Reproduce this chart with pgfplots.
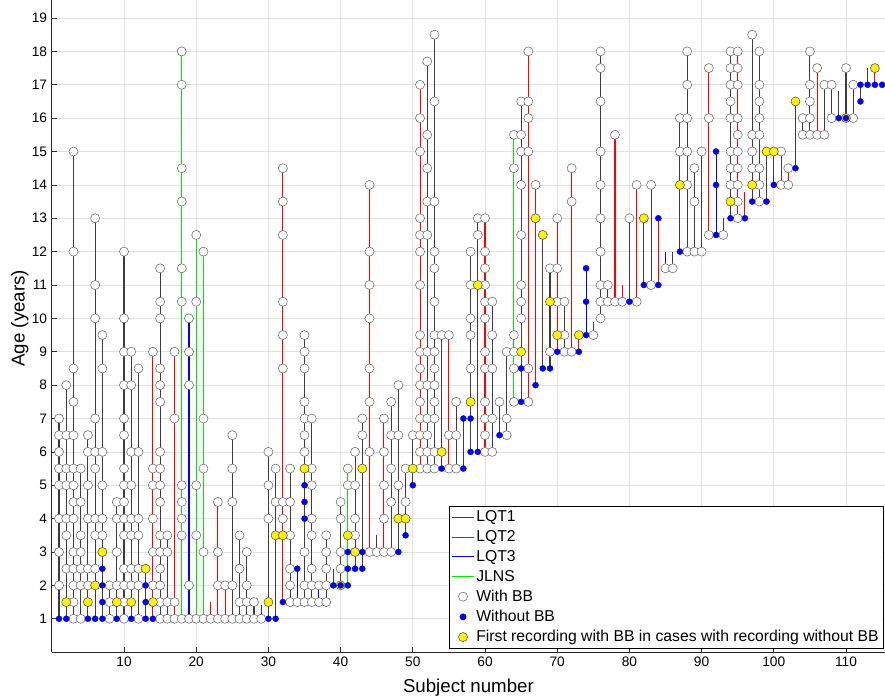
\documentclass[border=0pt]{standalone}
\usepackage{fontspec}
\setmainfont{Liberation Sans}
\usepackage{pgfplots}
\pgfplotsset{compat=1.18}
\definecolor{gridc}{RGB}{225,225,225}
\definecolor{lgreen}{RGB}{0,230,0}
\definecolor{lred}{RGB}{255,0,0}
\definecolor{lblue}{RGB}{0,0,255}
\definecolor{lblack}{RGB}{60,60,60}
\begin{document}
\begin{tikzpicture}
\begin{axis}[
  scale only axis, width=624.75pt, height=489pt,
  xmin=0, xmax=115.4, ymin=0, ymax=19.54,
  axis x line*=bottom, axis y line*=left,
  axis line style={-, black!85, line width=0.5pt},
  xtick={10,20,...,110}, ytick={1,...,19},
  tick align=inside, major tick length=4pt,
  tick style={black!85, line width=0.5pt},
  grid=major, grid style={gridc, line width=0.5pt},
  ticklabel style={font=\fontsize{10.3}{12}\selectfont},
  /pgf/number format/assume math mode=true,
  xlabel={Subject number}, ylabel={Age (years)},
  label style={font=\fontsize{14}{16}\selectfont},
  xlabel style={at={(axis description cs:0.5,-0.0552)}, anchor=center},
  ylabel style={at={(axis description cs:-0.0384,0.512)}, anchor=center},
  legend cell align=left,
  legend image code/.code={\draw[#1] (0pt,0pt)--(16pt,0pt);},
  legend style={at={(axis description cs:0.9985,0.006)}, anchor=south east,
    draw=black, line width=0.5pt, fill=white,
    font=\fontsize{11.8}{13}\selectfont, inner xsep=2pt, inner ysep=1.5pt,
    row sep=1.9pt, nodes={inner sep=1.6pt}},
  unbounded coords=jump,
]
\coordinate (sw) at (rel axis cs:0,0);
\coordinate (ne) at (rel axis cs:1,1);
% legend entries
\addlegendimage{lblack, line width=0.7pt}
\addlegendentry{LQT1}
\addlegendimage{lred, line width=0.7pt}
\addlegendentry{LQT2}
\addlegendimage{lblue, line width=0.7pt}
\addlegendentry{LQT3}
\addlegendimage{lgreen, line width=0.7pt}
\addlegendentry{JLNS}
\addlegendimage{legend image code/.code={\draw[black!60, fill=white, line width=0.4pt] (8pt,0pt) circle (3.4pt);}}
\addlegendentry{With BB}
\addlegendimage{legend image code/.code={\fill[lblue] (8pt,0pt) circle (2.3pt);}}
\addlegendentry{Without BB}
\addlegendimage{legend image code/.code={\draw[black!70, fill=yellow, line width=0.4pt] (8pt,0pt) circle (3.4pt);}}
\addlegendentry{First recording with BB in cases with recording without BB}

% LQT1 lines
\addplot[forget plot, lblack, line width=0.8pt, no marks] coordinates {
(1,1)(1,7)(1,nan) (2,1)(2,8)(2,nan) (3,1)(3,15)(3,nan) (4,1)(4,5.5)(4,nan)
(5,1)(5,6.5)(5,nan) (6,1)(6,13)(6,nan) (7,1)(7,9.5)(7,nan) (8,1)(8,2)(8,nan)
(9,1)(9,4.5)(9,nan) (10,1)(10,12)(10,nan) (11,1)(11,9)(11,nan) (12,1)(12,8.5)(12,nan)
(13,1)(13,2.5)(13,nan) (15,1)(15,11.5)(15,nan) (16,1)(16,3.5)(16,nan)
(25,1)(25,6.5)(25,nan) (26,1)(26,3.5)(26,nan) (27,1)(27,3)(27,nan) (28,1)(28,1.5)(28,nan)
(29,1)(29,1.4)(29,nan) (30,1)(30,6)(30,nan) (31,1)(31,5.5)(31,nan) (33,1.5)(33,5.5)(33,nan)
(35,1.5)(35,9.5)(35,nan) (36,1.5)(36,7)(36,nan) (38,1.5)(38,3.5)(38,nan) (39,2)(39,2.5)(39,nan)
(40,2)(40,4.5)(40,nan) (42,2.5)(42,6)(42,nan) (43,2.5)(43,7)(43,nan) (45,3)(45,3.5)(45,nan)
(47,3)(47,7.5)(47,nan) (48,3)(48,8)(48,nan) (49,3.5)(49,5.5)(49,nan) (50,5)(50,6.5)(50,nan)
(52,5.5)(52,17.7)(52,nan) (53,5.5)(53,18.5)(53,nan) (54,5.5)(54,9.5)(54,nan) (56,5.5)(56,7.5)(56,nan)
(57,5.5)(57,7)(57,nan) (58,6)(58,12)(58,nan) (59,6)(59,13)(59,nan) (61,6)(61,10.5)(61,nan)
(62,6.5)(62,7.5)(62,nan) (63,6.5)(63,9)(63,nan) (65,7.5)(65,16.5)(65,nan) (68,8.5)(68,12.5)(68,nan)
(69,8.5)(69,11.5)(69,nan) (71,9)(71,10.5)(71,nan) (75,9.5)(75,9.9)(75,nan) (76,10)(76,18)(76,nan)
(77,10.5)(77,11)(77,nan) (80,10.5)(80,13)(80,nan) (82,11)(82,13)(82,nan) (83,11)(83,14)(83,nan)
(86,11.5)(86,12)(86,nan) (87,12)(87,16)(87,nan) (88,12)(88,18)(88,nan) (89,12)(89,14.5)(89,nan)
(90,12)(90,15)(90,nan) (93,12.5)(93,13)(93,nan) (94,13)(94,18)(94,nan) (97,13.5)(97,18.5)(97,nan)
(98,13.5)(98,18)(98,nan) (99,13.5)(99,15)(99,nan) (100,14)(100,15)(100,nan) (101,14)(101,15)(101,nan)
(103,14.5)(103,16.5)(103,nan) (104,15.5)(104,16)(104,nan) (105,15.5)(105,18)(105,nan)
(107,15.5)(107,17)(107,nan) (108,16)(108,17)(108,nan) (109,16)(109,16.8)(109,nan)
(110,16)(110,17.5)(110,nan) (111,16)(111,17)(111,nan) (112,16.5)(112,17)(112,nan)
(113,17)(113,17.5)(113,nan)
};
% LQT2 lines
\addplot[forget plot, lred, line width=0.8pt, no marks] coordinates {
(14,1)(14,9)(14,nan) (17,1)(17,9)(17,nan) (22,1)(22,1.5)(22,nan) (23,1)(23,4.5)(23,nan)
(24,1)(24,2)(24,nan) (32,1.5)(32,14.5)(32,nan) (44,3)(44,14)(44,nan) (46,3)(46,7)(46,nan)
(51,5.5)(51,17)(51,nan) (55,5.5)(55,9.5)(55,nan) (60,6)(60,13)(60,nan) (66,7.5)(66,18)(66,nan)
(67,8)(67,14)(67,nan) (70,9)(70,13)(70,nan) (72,9)(72,14.5)(72,nan) (73,9)(73,9.5)(73,nan)
(78,10.5)(78,15.5)(78,nan) (79,10.5)(79,11)(79,nan) (81,10.5)(81,14)(81,nan) (84,11)(84,13)(84,nan)
(91,12.5)(91,17.5)(91,nan) (95,13)(95,18)(95,nan) (96,13)(96,13.8)(96,nan) (102,14)(102,14.5)(102,nan)
(106,15.5)(106,17.5)(106,nan) (114,17)(114,17.5)(114,nan)
};
% LQT3 lines
\addplot[forget plot, lblue, line width=0.8pt, no marks] coordinates {
(19,1)(19,10)(19,nan) (34,1.5)(34,2.5)(34,nan) (37,1.5)(37,2)(37,nan)
(74,9.5)(74,11.5)(74,nan) (85,11.5)(85,12)(85,nan) (92,12.5)(92,15)(92,nan)
};
% JLNS lines
\addplot[forget plot, lgreen, line width=0.8pt, no marks] coordinates {
(18,1)(18,18)(18,nan) (20,1)(20,12.5)(20,nan) (21,1)(21,12)(21,nan)
(41,2)(41,5.5)(41,nan) (64,7.5)(64,15.5)(64,nan)
};
% With BB
\addplot[forget plot, only marks, mark=*, mark size=3.4pt, mark options={draw=black!60, fill=white, line width=0.4pt}] coordinates {
(1,2)(1,3)(1,4)(1,5)(1,5.5)(1,6)(1,6.5)(1,7)
(2,2.5)(2,3.5)(2,4)(2,5)(2,5.5)(2,6.5)(2,8)
(3,1)(3,1.5)(3,2)(3,2.5)(3,3)(3,4)(3,4.5)(3,5)(3,5.5)(3,6.5)(3,7.5)(3,8.5)(3,12)(3,15)
(4,1)(4,2)(4,2.5)(4,3)(4,3.5)(4,4.5)(4,5.5)
(5,2)(5,2.5)(5,4)(5,5)(5,6)(5,6.5)
(6,2.5)(6,3.5)(6,4)(6,5.5)(6,6)(6,7)(6,10)(6,11)(6,13)
(7,3.5)(7,4)(7,5)(7,6)(7,8.5)(7,9.5)
(8,1)(8,1.5)(8,2)
(9,2)(9,3)(9,4)(9,4.5)
(10,1)(10,1.5)(10,2)(10,2.5)(10,3.5)(10,4)(10,4.5)(10,5)(10,5.5)(10,6.5)(10,7)(10,8)(10,9)(10,10)(10,12)
(11,2)(11,2.5)(11,3.5)(11,4)(11,5)(11,6)(11,8)(11,9)
(12,1)(12,2)(12,2.5)(12,3.5)(12,4)(12,6)(12,8.5)
(14,2)(14,3)(14,4)(14,5)(14,5.5)(14,9)
(15,1)(15,1.5)(15,2)(15,2.5)(15,3)(15,3.5)(15,4.5)(15,5)(15,5.5)(15,6)(15,7.5)(15,8)(15,8.5)(15,10)(15,10.5)(15,11.5)
(16,1)(16,1.5)(16,3)(16,3.5)
(17,1)(17,1.5)(17,7)(17,9)
(18,1)(18,3.5)(18,4)(18,4.5)(18,5)(18,10.5)(18,11.5)(18,13.5)(18,14.5)(18,17)(18,18)
(19,1)(19,2)(19,8)(19,9)(19,10)
(20,1)(20,3.5)(20,5)(20,10.5)(20,12.5)
(21,1)(21,3)(21,5.5)(21,7)(21,12)
(22,1)
(23,1)(23,2)(23,3)(23,4.5)
(24,1)(24,2)
(25,1)(25,2)(25,4.5)(25,5.5)(25,6.5)
(26,1)(26,1.5)(26,2.5)(26,3.5)
(27,1)(27,1.5)(27,2)(27,3)
(28,1)(28,1.5)
(29,1)
(30,4)(30,5)(30,6)
(31,4.5)(31,5.5)
(32,4)(32,4.5)(32,8.5)(32,9.5)(32,10.5)(32,12.5)(32,13.5)(32,14.5)
(33,1.5)(33,2)(33,2.5)(33,3.5)(33,4.5)(33,5.5)
(34,1.5)
(35,1.5)(35,2)(35,3)(35,6)(35,6.5)(35,7)(35,7.5)(35,8.5)(35,9)(35,9.5)
(36,1.5)(36,2)(36,2.5)(36,3.5)(36,4)(36,5)(36,5.5)(36,7)
(37,1.5)(37,2)
(38,1.5)(38,2)(38,2.5)(38,3)(38,3.5)
(40,2.5)(40,3)(40,4)(40,4.5)
(41,5)(41,5.5)
(42,3.5)(42,4)(42,5)(42,6)
(43,6.5)(43,7)
(44,3)(44,6)(44,7.5)(44,8.5)(44,10)(44,11)(44,12)(44,14)
(45,3)
(46,3)(46,4)(46,5)(46,6)(46,7)
(47,3)(47,4.5)(47,5.5)(47,6.5)(47,7.5)
(48,5)(48,6.5)(48,8)
(49,4.5)(49,5.5)
(50,6.5)
(51,5.5)(51,6)(51,6.5)(51,7)(51,7.5)(51,8)(51,8.5)(51,9)(51,9.5)(51,11)(51,12)(51,12.5)(51,13)(51,15)(51,16)(51,17)
(52,5.5)(52,6)(52,6.5)(52,7)(52,8)(52,9)(52,12.5)(52,13.5)(52,14.5)(52,15.5)(52,17.7)
(53,5.5)(53,6)(53,7)(53,7.5)(53,8)(53,8.5)(53,9)(53,9.5)(53,10.5)(53,11.5)(53,12)(53,13.5)(53,16.5)(53,18.5)
(54,9.5)
(55,5.5)(55,6.5)(55,9.5)
(56,5.5)(56,6.5)(56,7.5)
(58,8.5)(58,9.5)(58,10)(58,11)(58,12)
(59,12.5)(59,13)
(60,6)(60,6.5)(60,7)(60,7.5)(60,8.5)(60,9)(60,10)(60,10.5)(60,11)(60,11.5)(60,12)(60,13)
(61,6)(61,7)(61,8.5)(61,9.5)(61,10.5)
(62,7.5)
(63,6.5)(63,7)(63,9)
(64,7.5)(64,8.5)(64,9)(64,9.5)(64,14.5)(64,15.5)
(65,10)(65,10.5)(65,11)(65,12.5)(65,14)(65,15)(65,15.5)(65,16.5)
(66,7.5)(66,8.5)(66,15)(66,16)(66,16.5)(66,18)
(67,14)
(69,9)(69,11.5)
(70,10.5)(70,11.5)(70,13)
(71,9)(71,9.5)(71,10.5)
(72,9)(72,13.5)(72,14.5)
(75,9.5)
(76,10)(76,10.5)(76,11)(76,12)(76,13)(76,14)(76,15)(76,16.5)(76,17.5)(76,18)
(77,10.5)(77,11)
(78,10.5)(78,15.5)
(79,10.5)
(80,13)
(81,10.5)(81,14)
(83,11)(83,14)
(85,11.5)
(86,11.5)
(87,15)(87,16)
(88,12)(88,14)(88,15)(88,16)(88,17)(88,18)
(89,12)(89,13.5)(89,14.5)
(90,12)(90,15)
(91,12.5)(91,16)(91,17.5)
(93,12.5)
(94,14)(94,14.5)(94,15)(94,16)(94,16.5)(94,17)(94,17.5)(94,18)
(95,13)(95,13.5)(95,14)(95,14.5)(95,15)(95,15.5)(95,16)(95,17)(95,17.5)(95,18)
(97,14.5)(97,15)(97,15.5)(97,18.5)
(98,13.5)(98,14)(98,14.5)(98,15.5)(98,16)(98,16.5)(98,17)(98,18)
(101,14)(101,15)
(102,14)(102,14.5)
(104,15.5)(104,16)
(105,15.5)(105,16)(105,16.5)(105,17)(105,18)
(106,15.5)(106,17.5)
(107,15.5)(107,17)
(108,16)(108,17)
(110,17.5)
(111,16)(111,17)
};
% First recording with BB
\addplot[forget plot, only marks, mark=*, mark size=3.4pt, mark options={draw=black!70, fill=yellow, line width=0.4pt}] coordinates {
(2,1.5)(5,1.5)(6,2)(7,3)(9,1.5)(11,1.5)(13,2.5)(14,1.5)(30,1.5)(31,3.5)(32,3.5)
(35,5.5)(40,2)(41,3.5)(42,3)(43,5.5)(48,4)(49,4)(50,5.5)(54,6)(58,7.5)(59,11)
(65,9)(67,13)(68,12.5)(69,10.5)(70,9.5)(73,9.5)(82,13)(87,14)(94,13.5)(97,14)
(99,15)(100,15)(103,16.5)(110,16)(114,17.5)
};
% Without BB
\addplot[forget plot, only marks, mark=*, mark size=2.3pt, mark options={draw=lblue!80!black, fill=lblue, line width=0.2pt}] coordinates {
(1,1)(2,1)(5,1)(6,1)(7,1)(7,1.5)(7,2)(7,2.5)(9,1)(11,1)(13,1)(13,1.5)(13,2)(14,1)
(30,1)(31,1)(32,1.5)(34,2.5)(35,4)(35,4.5)(35,5)(39,2)(40,2)(41,2)(41,2.5)(41,3)
(42,2.5)(43,2.5)(43,3)(48,3)(49,3.5)(50,5)(54,5.5)(57,5.5)(57,7)(58,6)(58,7)(59,6)
(62,6.5)(65,7.5)(65,8.5)(67,8)(68,8.5)(69,8.5)(70,9)(73,9)(74,9.5)(74,10.5)(74,11.5)
(80,10.5)(82,11)(84,11)(84,13)(87,12)(92,12.5)(92,14)(92,15)(94,13)(96,13)(97,13.5)
(99,13.5)(100,14)(103,14.5)(109,16)(110,16)(112,16.5)(112,17)(113,17)(114,17)(115,17)
};
\end{axis}
\pgfresetboundingbox
\useasboundingbox ([shift={(-38.85pt,-33.75pt)}]sw) rectangle (ne);
\end{tikzpicture}
\end{document}
